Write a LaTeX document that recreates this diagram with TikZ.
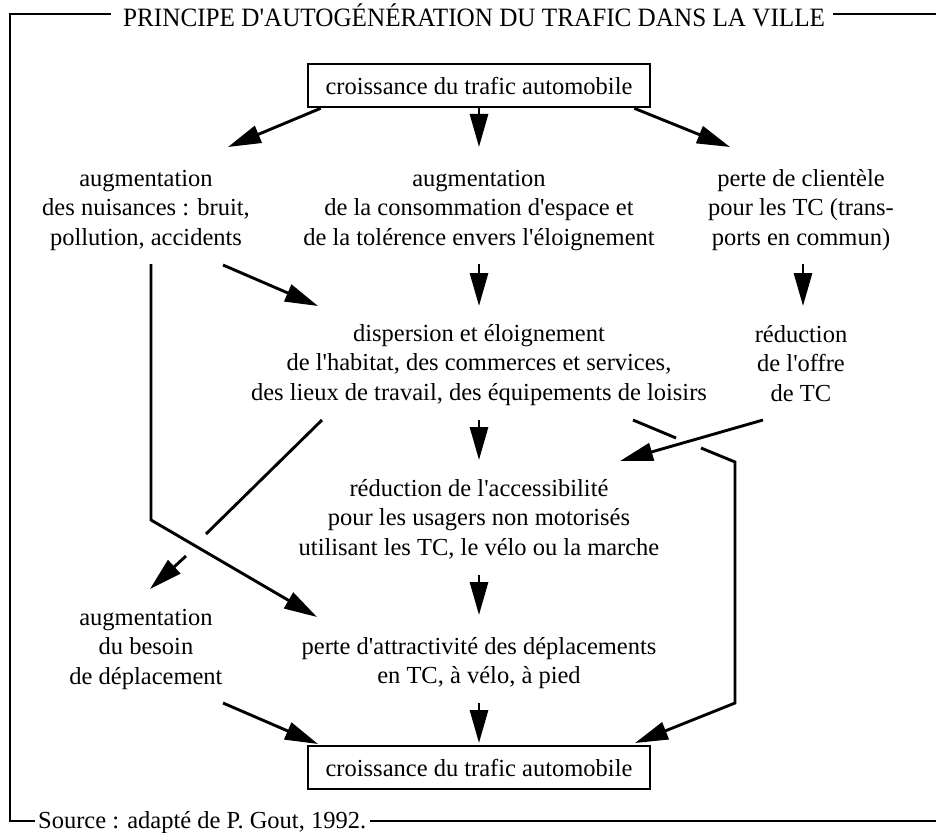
\documentclass[tikz,border=0pt]{standalone}
\usepackage{fontspec}
\usepackage{graphicx}
\setmainfont{Liberation Serif}[Ligatures=TeXOff]
\usetikzlibrary{arrows.meta}
\newcommand{\mlines}[1]{\begin{tabular}[t]{@{}c@{}}#1\end{tabular}}
\begin{document}
\begin{tikzpicture}[x=1pt,y=-1pt,
  bodyfont/.style={font=\fontsize{24.5}{29.5}\selectfont},
  lbl/.style={bodyfont, inner sep=0pt, anchor=base},
  boxnode/.style={bodyfont, draw, line width=2.6pt, minimum width=342pt, minimum height=43pt, inner sep=0pt},
  conn/.style={line width=2.9pt},
  arr/.style={conn, -{Triangle[length=33pt,width=18pt]}},
  framel/.style={line width=2.6pt}]
\useasboundingbox (0,0) rectangle (936,832);

% title and frame
\node[inner sep=0pt, anchor=base west, font=\fontsize{26.5}{30}\selectfont] (title) at (123,27)
  {\scalebox{0.95}[1]{PRINCIPE D'AUTOGÉNÉRATION DU TRAFIC DANS LA VILLE}};
\node[lbl, anchor=base west] (src) at (38,828) {Source : adapté de P. Gout, 1992.};
\coordinate (tl) at (10,14);
\coordinate (bl) at (10,821);
\coordinate (tr) at (936,14);
\coordinate (br) at (936,821);
\draw[framel] ([xshift=-12pt]title.west |- tl) -- (tl) -- (bl) -- ([xshift=-3pt]src.west |- bl);
\draw[framel] ([xshift=8pt]title.east |- tr) -- (tr);
\draw[framel] ([xshift=4pt]src.east |- br) -- (br);

% boxes
\node[boxnode] (top) at (479,85.5) {croissance du trafic automobile};
\node[boxnode] (bot) at (479,767.5) {croissance du trafic automobile};

% texts
\node[lbl] (nuis) at (146,186) {\mlines{augmentation\\des nuisances : bruit,\\pollution, accidents}};
\node[lbl] (esp) at (479,186) {\mlines{augmentation\\de la consommation d'espace et\\de la tolérence envers l'éloignement}};
\node[lbl] (clien) at (801,186) {\mlines{perte de clientèle\\pour les TC (trans-\\ports en commun)}};
\node[lbl] (disp) at (479,341) {\mlines{dispersion et éloignement\\de l'habitat, des commerces et services,\\des lieux de travail, des équipements de loisirs}};
\node[lbl] (offre) at (801,342) {\mlines{réduction\\de l'offre\\de TC}};
\node[lbl] (acc) at (479,496) {\mlines{réduction de l'accessibilité\\pour les usagers non motorisés\\utilisant les TC, le vélo ou la marche}};
\node[lbl] (bes) at (146,625) {\mlines{augmentation\\du besoin\\de déplacement}};
\node[lbl] (attr) at (479,654) {\mlines{perte d'attractivité des déplacements\\en TC, à vélo, à pied}};

% connector end points
\coordinate (nuisT) at (228,147);
\coordinate (espT) at (479,147);
\coordinate (clienT) at (730,147);
\coordinate (nuisB) at (223,265);
\coordinate (nuisL) at (151,264);
\coordinate (nuisC) at (151,520);
\coordinate (espB) at (479,264);
\coordinate (clienB) at (803,264);
\coordinate (dispT1) at (318,306);
\coordinate (dispT2) at (479,306);
\coordinate (offreT) at (803,306);
\coordinate (dispL) at (322,420);
\coordinate (gapA1) at (206,534);
\coordinate (gapA2) at (186,556);
\coordinate (besT) at (150,589);
\coordinate (dispM) at (479,420);
\coordinate (dispR) at (633,420);
\coordinate (gapB1) at (676,438);
\coordinate (gapB2) at (701,448);
\coordinate (rc1) at (735,462);
\coordinate (rc2) at (735,703);
\coordinate (offreB) at (763,420);
\coordinate (accT1) at (479,460);
\coordinate (accT2) at (620,461);
\coordinate (accB) at (479,575);
\coordinate (attrT1) at (317,617);
\coordinate (attrT2) at (479,615);
\coordinate (besB) at (223,703);
\coordinate (attrB) at (479,703);
\coordinate (botL) at (318,744);
\coordinate (botM) at (479,743);
\coordinate (botR) at (635,743);

% connectors
\draw[arr] ([xshift=14pt]top.south west) -- (nuisT);
\draw[arr] (top.south) -- (espT);
\draw[arr] ([xshift=-17pt]top.south east) -- (clienT);

\draw[arr] (nuisB) -- (dispT1);
\draw[arr] (espB) -- (dispT2);
\draw[arr] (clienB) -- (offreT);
\draw[arr, line join=miter] (nuisL) -- (nuisC) -- (attrT1);

\draw[conn] (dispL) -- (gapA1);
\draw[arr] (gapA2) -- (besT);
\draw[arr] (dispM) -- (accT1);
\draw[arr] (offreB) -- (accT2);
\draw[conn] (dispR) -- (gapB1);
\draw[arr, line join=miter] (gapB2) -- (rc1) -- (rc2) -- (botR);

\draw[arr] (accB) -- (attrT2);
\draw[arr] (besB) -- (botL);
\draw[arr] (attrB) -- (botM);
\end{tikzpicture}
\end{document}
